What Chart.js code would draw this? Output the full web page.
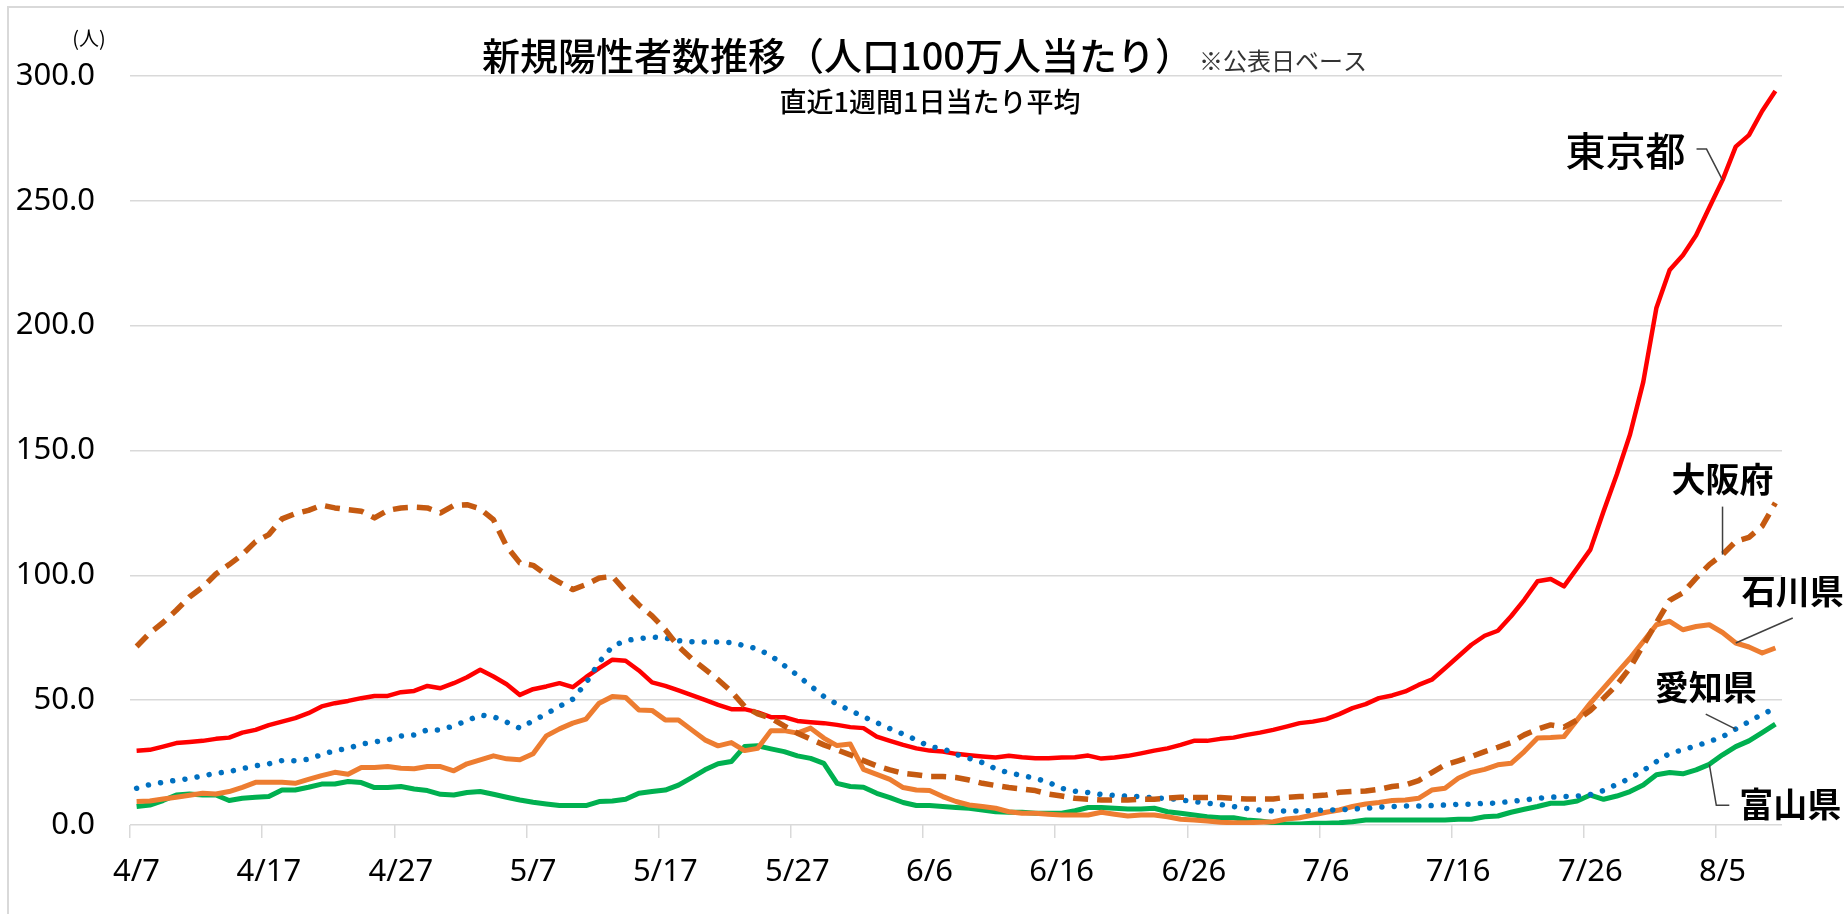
<!DOCTYPE html>
<html lang="ja">
<head>
<meta charset="utf-8">
<script src="https://cdn.jsdelivr.net/npm/chart.js@4.4.1/dist/chart.umd.min.js"></script>
<style>
  html, body { margin: 0; padding: 0; background: #fff; }
  #wrap { position: relative; width: 1844px; height: 914px; }
</style>
</head>
<body>
<div id="wrap"><canvas id="chart"></canvas></div>
<script>
// ---- 日付（4/7〜8/9）----
const dates = [
  "4/7","4/8","4/9","4/10","4/11","4/12","4/13","4/14","4/15","4/16","4/17","4/18","4/19","4/20",
  "4/21","4/22","4/23","4/24","4/25","4/26","4/27","4/28","4/29","4/30",
  "5/1","5/2","5/3","5/4","5/5","5/6","5/7","5/8","5/9","5/10","5/11","5/12","5/13","5/14","5/15","5/16",
  "5/17","5/18","5/19","5/20","5/21","5/22","5/23","5/24","5/25","5/26","5/27","5/28","5/29","5/30","5/31",
  "6/1","6/2","6/3","6/4","6/5","6/6","6/7","6/8","6/9","6/10","6/11","6/12","6/13","6/14","6/15","6/16",
  "6/17","6/18","6/19","6/20","6/21","6/22","6/23","6/24","6/25","6/26","6/27","6/28","6/29","6/30",
  "7/1","7/2","7/3","7/4","7/5","7/6","7/7","7/8","7/9","7/10","7/11","7/12","7/13","7/14","7/15","7/16",
  "7/17","7/18","7/19","7/20","7/21","7/22","7/23","7/24","7/25","7/26","7/27","7/28","7/29","7/30","7/31",
  "8/1","8/2","8/3","8/4","8/5","8/6","8/7","8/8","8/9"
];

// ---- 人口100万人当たり 直近1週間1日当たり平均 ----
const tokyo = [
  29.7,30.1,31.4,32.8,33.2,33.7,34.5,35.0,37.0,38.1,40.0,41.4,42.8,44.8,47.5,48.8,49.7,50.8,51.7,51.7,
  53.2,53.7,55.7,54.8,56.8,59.2,62.2,59.5,56.4,52.1,54.4,55.5,56.8,55.2,59.2,62.8,66.2,65.8,61.9,
  57.1,55.7,53.9,52.0,50.1,48.1,46.4,46.4,45.1,43.2,43.2,41.7,41.2,40.8,40.1,39.2,38.8,35.4,33.7,32.1,
  30.7,29.8,29.4,28.5,27.9,27.4,27.0,27.7,27.1,26.7,26.7,27.0,27.1,27.8,26.6,27.0,27.7,28.7,29.8,
  30.7,32.1,33.7,33.7,34.5,35.0,36.1,37.0,38.1,39.4,40.8,41.4,42.4,44.4,46.8,48.4,50.8,51.9,53.5,56.1,
  58.2,62.8,67.5,72.2,75.8,77.8,83.6,90.2,97.6,98.5,95.6,102.9,110.3,125.7,140.4,
  156.4,177.4,207.2,222.3,228.2,236.2,247.3,258.3,271.7,276.3,286.0,294.0
];
const osaka = [
  71.5,76.9,81.1,86.0,91.3,95.3,100.5,104.3,108.3,113.5,116.3,122.6,124.7,126.0,128.1,127.0,126.3,125.7,123.0,126.0,
  127.0,127.3,127.0,125.0,128.0,128.3,126.6,122.3,111.6,105.0,104.0,100.3,97.2,94.3,96.3,98.9,99.6,93.6,88.2,
  83.8,78.2,71.5,66.6,62.4,58.2,53.5,47.5,44.5,42.8,39.7,36.8,34.4,32.1,30.1,28.1,25.8,23.7,22.1,20.7,
  20.1,19.4,19.4,19.0,18.0,16.7,15.8,15.0,14.4,13.8,12.4,11.6,10.7,10.3,10.0,10.0,10.0,10.3,10.3,
  10.8,11.1,11.0,11.0,11.0,10.7,10.4,10.4,10.4,11.1,11.4,11.6,12.0,13.1,13.4,13.6,14.3,15.4,16.0,17.8,
  21.0,24.1,25.7,27.4,29.4,31.1,33.0,36.1,38.4,40.1,39.2,42.1,45.9,50.8,56.1,
  63.0,72.0,81.0,90.0,93.0,98.9,104.3,108.3,113.6,115.2,119.7,129.0
];
const aichi = [
  14.7,16.2,17.1,17.9,18.6,19.7,20.7,21.4,22.6,23.7,24.5,25.8,25.7,26.3,28.2,29.8,30.7,32.4,33.3,34.1,
  35.6,36.1,38.1,38.1,39.7,41.8,44.0,43.4,41.2,38.8,41.8,44.5,47.5,50.4,56.8,65.2,71.5,73.9,74.6,
  75.3,74.9,73.8,73.4,73.3,73.3,73.1,71.8,70.5,67.8,63.9,60.0,55.7,51.5,48.4,45.9,43.4,41.0,38.6,36.4,
  34.1,31.4,30.6,28.3,26.7,25.0,22.5,20.9,19.8,18.7,17.1,14.7,13.5,13.0,12.2,11.8,11.5,11.4,10.8,
  10.7,10.0,9.4,8.7,8.2,7.4,6.6,6.0,5.6,5.6,5.6,5.7,6.0,6.1,6.4,6.7,7.2,7.4,7.6,7.6,
  7.8,8.0,8.3,8.3,8.7,8.8,9.5,10.0,10.7,11.1,11.4,11.6,12.2,13.8,16.3,
  18.7,21.8,25.4,28.7,30.1,31.7,33.4,35.4,38.4,41.4,44.4,46.7
];
const ishikawa = [
  9.4,9.6,10.4,11.1,11.9,12.7,12.4,13.4,15.1,17.1,17.1,17.1,16.7,18.3,19.8,21.1,20.3,23.0,23.0,23.4,
  22.7,22.5,23.4,23.4,21.7,24.5,26.1,27.7,26.5,26.1,28.5,35.7,38.5,40.8,42.4,48.8,51.5,51.1,46.1,
  45.9,42.1,42.1,38.1,34.1,31.7,33.0,29.8,30.7,37.8,37.8,36.8,38.8,34.8,31.8,32.4,22.3,20.3,18.3,15.0,
  14.0,13.8,11.4,9.4,8.0,7.4,6.7,5.3,4.7,4.7,4.3,4.0,4.0,4.0,5.1,4.3,3.6,4.0,4.0,
  3.3,2.3,2.0,1.6,1.1,0.9,0.9,1.1,1.3,2.4,2.9,4.0,5.1,6.0,7.4,8.4,9.0,9.8,10.0,10.7,
  14.0,14.7,18.7,21.1,22.3,24.1,24.7,29.4,34.8,35.0,35.4,42.1,48.8,54.8,60.8,
  66.8,73.5,80.2,81.6,78.2,79.5,80.2,77.1,72.9,71.3,68.9,70.9
];
const toyama = [
  7.4,8.0,9.8,12.0,12.4,12.0,12.0,9.8,10.7,11.1,11.4,14.0,14.0,15.1,16.4,16.4,17.4,17.0,15.0,15.0,
  15.4,14.4,13.8,12.3,12.0,13.0,13.4,12.3,11.1,10.0,9.1,8.4,7.8,7.8,7.8,9.4,9.6,10.3,12.7,
  13.4,14.0,16.0,19.0,22.1,24.5,25.4,31.4,31.7,30.5,29.4,27.7,26.7,24.7,16.7,15.4,15.1,12.7,11.0,9.0,
  7.8,7.8,7.4,7.0,6.7,6.0,5.3,5.1,5.1,4.7,4.7,4.7,5.7,7.0,7.0,6.7,6.4,6.4,6.7,
  5.3,4.7,4.0,3.3,2.9,2.9,2.0,1.6,0.9,0.4,0.4,0.7,0.7,0.9,1.3,2.0,2.0,2.0,2.0,2.0,
  2.0,2.0,2.3,2.3,3.3,3.6,5.1,6.3,7.4,8.7,8.7,9.6,12.0,10.3,11.6,
  13.4,16.0,20.1,21.0,20.5,22.1,24.3,28.1,31.4,33.7,37.0,40.4
];

const yTicks = [0, 50, 100, 150, 200, 250, 300];

// ラベル（引き出し線つき）: 系列・日付インデックス・ずらし量
const callouts = [
  { text: "東京都", data: tokyo, at: 120, font: "500 40px 'Noto Sans CJK JP'", align: "right",
    line: [[-16, -31], [-26, -31]], label: [-37, -29] },
  { text: "大阪府", data: osaka, at: 120, font: "bold 34px 'Noto Sans CJK JP'", align: "center",
    line: [[0, -48]], label: [0, -76] },
  { text: "石川県", data: ishikawa, at: 121, font: "bold 34px 'Noto Sans CJK JP'", align: "center",
    line: [[57, -25]], label: [57, -52] },
  { text: "愛知県", data: aichi, at: 121, font: "bold 34px 'Noto Sans CJK JP'", align: "center",
    line: [[-30, -15]], label: [-30, -42] },
  { text: "富山県", data: toyama, at: 119, font: "bold 34px 'Noto Sans CJK JP'", align: "left",
    line: [[7, 41], [20, 41]], label: [30, 40] }
];

// タイトル・枠・ラベルを描くプラグイン
const overlay = {
  id: "overlay",
  beforeDraw(chart) {
    const ctx = chart.ctx;
    ctx.save();
    ctx.strokeStyle = "#d9d9d9";
    ctx.lineWidth = 2;
    ctx.beginPath();
    ctx.moveTo(8, 914);
    ctx.lineTo(8, 7);
    ctx.lineTo(1844, 7);
    ctx.stroke();
    ctx.restore();
  },
  afterDraw(chart) {
    const ctx = chart.ctx;
    const xs = chart.scales.x, ys = chart.scales.y;
    ctx.save();
    ctx.fillStyle = "#000";
    ctx.textBaseline = "middle";

    // タイトル
    ctx.textAlign = "left";
    ctx.font = "500 38px 'Noto Sans CJK JP'";
    const title = "新規陽性者数推移（人口100万人当たり）";
    ctx.fillText(title, 482, 56);
    const tw = ctx.measureText(title).width;
    ctx.font = "24px 'Noto Sans CJK JP'";
    ctx.fillStyle = "#333";
    ctx.fillText("※公表日ベース", 482 + tw + 6, 61);
    ctx.fillStyle = "#000";
    ctx.textAlign = "center";
    ctx.font = "500 27px 'Noto Sans CJK JP'";
    ctx.fillText("直近1週間1日当たり平均", 930, 102);

    // 単位
    ctx.font = "20px 'Noto Sans CJK JP'";
    ctx.fillText("(人)", 89, 38);

    // 引き出し線とラベル
    callouts.forEach((c) => {
      const px = xs.getPixelForValue(c.at);
      const py = ys.getPixelForValue(c.data[c.at]);
      ctx.strokeStyle = "#404040";
      ctx.lineWidth = 1.5;
      ctx.beginPath();
      ctx.moveTo(px, py);
      c.line.forEach((p) => ctx.lineTo(px + p[0], py + p[1]));
      ctx.stroke();
      ctx.font = c.font;
      ctx.textAlign = c.align;
      ctx.fillStyle = "#000";
      ctx.fillText(c.text, px + c.label[0], py + c.label[1]);
    });
    ctx.restore();
  }
};

const tickFont = { family: "'Noto Sans', sans-serif", size: 31 };

new Chart(document.getElementById("chart"), {
  type: "line",
  data: {
    labels: dates,
    datasets: [
      { label: "大阪府", data: osaka, borderColor: "#C55A11", borderWidth: 5.5,
        borderDash: [15, 9], borderCapStyle: "butt" },
      { label: "愛知県", data: aichi, borderColor: "#0070C0", borderWidth: 5.5,
        borderDash: [0.01, 12.3], borderCapStyle: "round" },
      { label: "東京都", data: tokyo, borderColor: "#FF0000", borderWidth: 4.5 },
      { label: "石川県", data: ishikawa, borderColor: "#ED7D31", borderWidth: 5 },
      { label: "富山県", data: toyama, borderColor: "#00B050", borderWidth: 5 }
    ]
  },
  options: {
    responsive: true,
    maintainAspectRatio: false,
    animation: false,
    events: [],
    elements: {
      point: { radius: 0 },
      line: { tension: 0, borderJoinStyle: "round", fill: false }
    },
    layout: { padding: { top: 76, right: 62, left: 0, bottom: 0 } },
    plugins: { legend: { display: false }, tooltip: { enabled: false } },
    scales: {
      x: {
        type: "category",
        offset: true,
        grid: {
          offset: true,
          drawOnChartArea: false,
          drawTicks: true,
          tickLength: 13,
          lineWidth: 1.5,
          color: (c) => (c.index % 10 === 0 ? "#d9d9d9" : "rgba(0,0,0,0)"),
          tickColor: (c) => (c.index % 10 === 0 ? "#d9d9d9" : "rgba(0,0,0,0)")
        },
        border: { display: false },
        ticks: {
          autoSkip: false,
          maxRotation: 0,
          padding: 16,
          color: "#000",
          font: tickFont,
          callback: (v, i) => (i % 10 === 0 ? dates[i] : "")
        },
        afterFit: (s) => { s.height = 89; }
      },
      y: {
        min: 0,
        max: 300,
        afterBuildTicks: (s) => { s.ticks = yTicks.map((v) => ({ value: v })); },
        grid: { color: "#d9d9d9", lineWidth: 1.5, drawTicks: false },
        border: { display: false },
        ticks: {
          padding: 35,
          color: "#000",
          font: tickFont,
          callback: (v) => Number(v).toFixed(1)
        },
        afterFit: (s) => { s.width = 130; }
      }
    }
  },
  plugins: [overlay]
});
</script>
</body>
</html>
